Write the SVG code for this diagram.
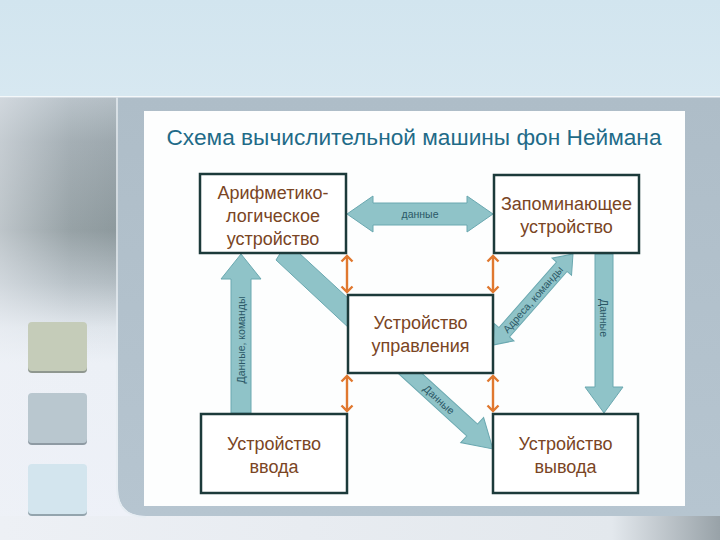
<svg xmlns="http://www.w3.org/2000/svg" width="720" height="540" viewBox="0 0 720 540">
<defs>
<linearGradient id="top" x1="0" y1="0" x2="0" y2="1"><stop offset="0" stop-color="#d2e5ef"/><stop offset="1" stop-color="#d7e8f1"/></linearGradient>
<linearGradient id="left" x1="0" y1="97" x2="0" y2="540" gradientUnits="userSpaceOnUse">
<stop offset="0" stop-color="#b4bec5"/><stop offset="0.1" stop-color="#9da8ae"/><stop offset="0.3" stop-color="#8d999d"/><stop offset="0.42" stop-color="#b3bdc3"/><stop offset="0.52" stop-color="#dfe5eb"/><stop offset="0.6" stop-color="#ecf0f6"/><stop offset="1" stop-color="#eef1f8"/></linearGradient>
<linearGradient id="leftH" x1="0" y1="0" x2="1" y2="0"><stop offset="0" stop-color="#eef1f6" stop-opacity="0.5"/><stop offset="0.6" stop-color="#eef1f6" stop-opacity="0.1"/><stop offset="1" stop-color="#eef1f6" stop-opacity="0"/></linearGradient>
<linearGradient id="panel" x1="0" y1="0" x2="0" y2="1"><stop offset="0" stop-color="#aebdc8"/><stop offset="1" stop-color="#b6c5d0"/></linearGradient>
<linearGradient id="bottom" x1="0" y1="0" x2="1" y2="0"><stop offset="0" stop-color="#edf0f5"/><stop offset="0.85" stop-color="#e3e8ed"/><stop offset="1" stop-color="#98a2a8"/></linearGradient>
<marker id="oh" viewBox="-8 -8 10 16" markerWidth="10" markerHeight="16" refX="0" refY="0" orient="auto-start-reverse" markerUnits="userSpaceOnUse">
<path d="M-5.5,-5.5 L0,0 L-5.5,5.5" fill="none" stroke="#e0782f" stroke-width="2.4"/>
</marker>
<style>
.box{fill:#ffffff;stroke:#1c3a3a;stroke-width:2.5}
.bt{font-family:"Liberation Sans",Arial,sans-serif;font-size:18px;fill:#7a4524;text-anchor:middle}
.blk{fill:#8fc3c8;stroke:#6aa8b0;stroke-width:1}
.lbl{font-family:"Liberation Sans",Arial,sans-serif;font-size:10.5px;fill:#2b5866;text-anchor:middle}
.or{stroke:#e0782f;stroke-width:2.4;fill:none;marker-start:url(#oh);marker-end:url(#oh)}
</style>
</defs>
<rect width="720" height="540" fill="#eef1f8"/>
<rect x="0" y="0" width="720" height="96" fill="url(#top)"/>
<rect x="0" y="96" width="720" height="1.5" fill="#f4f8fa"/>
<rect x="0" y="97.5" width="118" height="443" fill="url(#left)"/>
<rect x="0" y="97.5" width="118" height="443" fill="url(#leftH)"/>
<rect x="0" y="516" width="720" height="24" fill="url(#bottom)"/>
<path d="M118,97.5 H720 V516 H146 Q118,516 118,488 Z" fill="url(#panel)"/>
<path d="M117,97.5 V488 Q117,517 146,517" fill="none" stroke="#e6edf2" stroke-width="1.5"/>
<rect x="144" y="111" width="541" height="395" fill="#fdfefe"/>
<g id="squares">
<rect x="28" y="324" width="59" height="49" rx="4" fill="#8f978f"/>
<rect x="28" y="322" width="59" height="49" rx="4" fill="#c5ccb9"/>
<rect x="28" y="395" width="59" height="50" rx="4" fill="#8e9aa3"/>
<rect x="28" y="393" width="59" height="50" rx="4" fill="#b9c7cf"/>
<rect x="28" y="466" width="59" height="50" rx="4" fill="#93a4ad"/>
<rect x="28" y="464" width="59" height="50" rx="4" fill="#d3e5ee"/>
</g>
<text id="title" x="414" y="145" font-family="Liberation Sans, Arial, sans-serif" font-size="22" fill="#1f6b88" text-anchor="middle" textLength="495" lengthAdjust="spacingAndGlyphs">Схема вычислительной машины фон Неймана</text>
<g id="connectors">
<polygon class="blk" points="347,214 373,196 373,203 467,203 467,196 493,214 467,232 467,225 373,225 373,232"/>
<text class="lbl" x="420" y="217.5">данные</text>
<polygon class="blk" points="241,254 261,279 251,279 251,413 231,413 231,279 221,279"/>
<text class="lbl" transform="translate(244.8,340) rotate(-90)">Данные, команды</text>
<polygon class="blk" points="595,254 613,254 613,387 623,387 604,413 585,387 595,387"/>
<text class="lbl" transform="translate(600.2,318) rotate(90)">Данные</text>
<polygon class="blk" points="281,252 298,252 350,300 350,329 276,260"/>
<g transform="translate(533,299.5) rotate(-48.7)">
<polygon class="blk" points="-60.6,0 -43.6,-13 -43.6,-7 43.6,-7 43.6,-13 60.6,0 43.6,13 43.6,7 -43.6,7 -43.6,13"/>
<text class="lbl" x="0" y="3.6">Адреса, команды</text>
</g>
<g transform="translate(402,366) rotate(42.4)">
<polygon class="blk" points="0,-8 95,-8 95,-17 123,0 95,17 95,8 0,8"/>
<text class="lbl" x="50" y="3.6">Данные</text>
</g>
<line class="or" x1="347" y1="256" x2="347" y2="292"/>
<line class="or" x1="493" y1="256" x2="493" y2="292"/>
<line class="or" x1="347" y1="376" x2="347" y2="411"/>
<line class="or" x1="493" y1="376" x2="493" y2="411"/>
</g>
<g id="alu">
<rect class="box" x="200" y="174" width="146" height="79"/>
<text class="bt" x="273" y="199">Арифметико-</text>
<text class="bt" x="273" y="222">логическое</text>
<text class="bt" x="273" y="245">устройство</text>
</g>
<g id="memory">
<rect class="box" x="494" y="175" width="145" height="78"/>
<text class="bt" x="566.5" y="210">Запоминающее</text>
<text class="bt" x="566.5" y="233">устройство</text>
</g>
<g id="control">
<rect class="box" x="348" y="295" width="145" height="78"/>
<text class="bt" x="420.5" y="329">Устройство</text>
<text class="bt" x="420.5" y="352">управления</text>
</g>
<g id="input">
<rect class="box" x="201" y="414" width="146" height="79"/>
<text class="bt" x="274" y="450">Устройство</text>
<text class="bt" x="274" y="473">ввода</text>
</g>
<g id="output">
<rect class="box" x="493" y="414" width="145" height="79"/>
<text class="bt" x="565.5" y="450">Устройство</text>
<text class="bt" x="565.5" y="473">вывода</text>
</g>
</svg>
